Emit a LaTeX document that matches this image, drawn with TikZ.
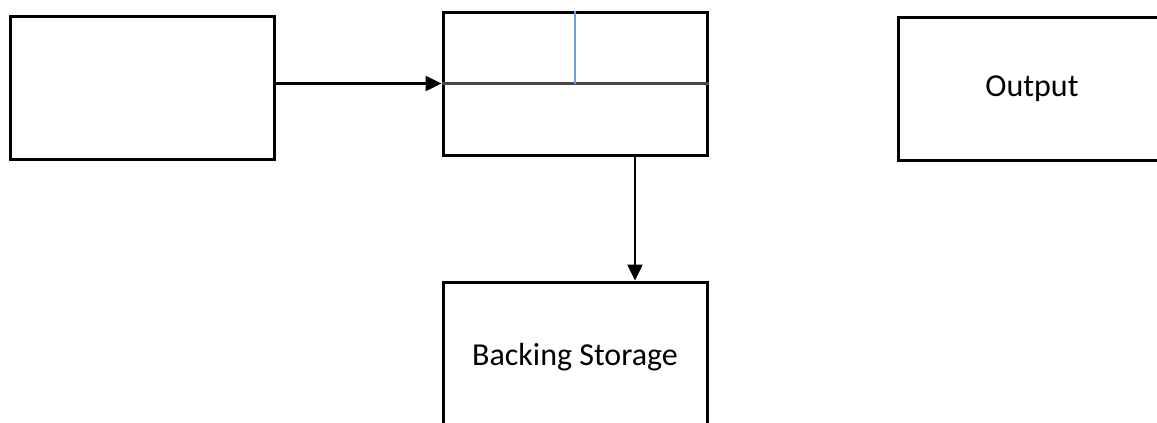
\documentclass[tikz,border=0pt]{standalone}
\usepackage{fontspec}
\setmainfont{Carlito}
\usetikzlibrary{arrows.meta}

\tikzset{
  unit/.style={draw, line width=3pt, minimum width=264pt, minimum height=143pt, inner sep=0pt, font=\fontsize{32}{38}\selectfont},
  flow/.style={line width=2.5pt, -{Triangle[length=16pt,width=15pt]}}
}

\begin{document}
\begin{tikzpicture}[x=1pt, y=-1pt]
        \useasboundingbox (0,0) rectangle (1157,423);
        \clip (0,0) rectangle (1157,423);

        % Boxes
        \node[unit] (inbox) at (142.5,88) {};
        \node[unit] (cpu) at (575,83.5) {};
        \node[unit, minimum width=268pt] (output) at (1032,88.5) {Output};
        \node[unit, minimum height=150pt] (store) at (575,357) {Backing Storage};

        % Inside the middle box
        \draw[line width=2.2pt, black!72] (cpu.west) -- (cpu.east);
        \draw[line width=1.4pt, color={rgb,255:red,110;green,160;blue,215}] (cpu.north) -- (cpu.center);

        % Arrows
        \draw[flow] (cpu.west -| inbox.east) -- (cpu.west);
        \draw[flow] ([xshift=60pt]cpu.south) -- ([xshift=60pt]store.north);
\end{tikzpicture}
\end{document}
